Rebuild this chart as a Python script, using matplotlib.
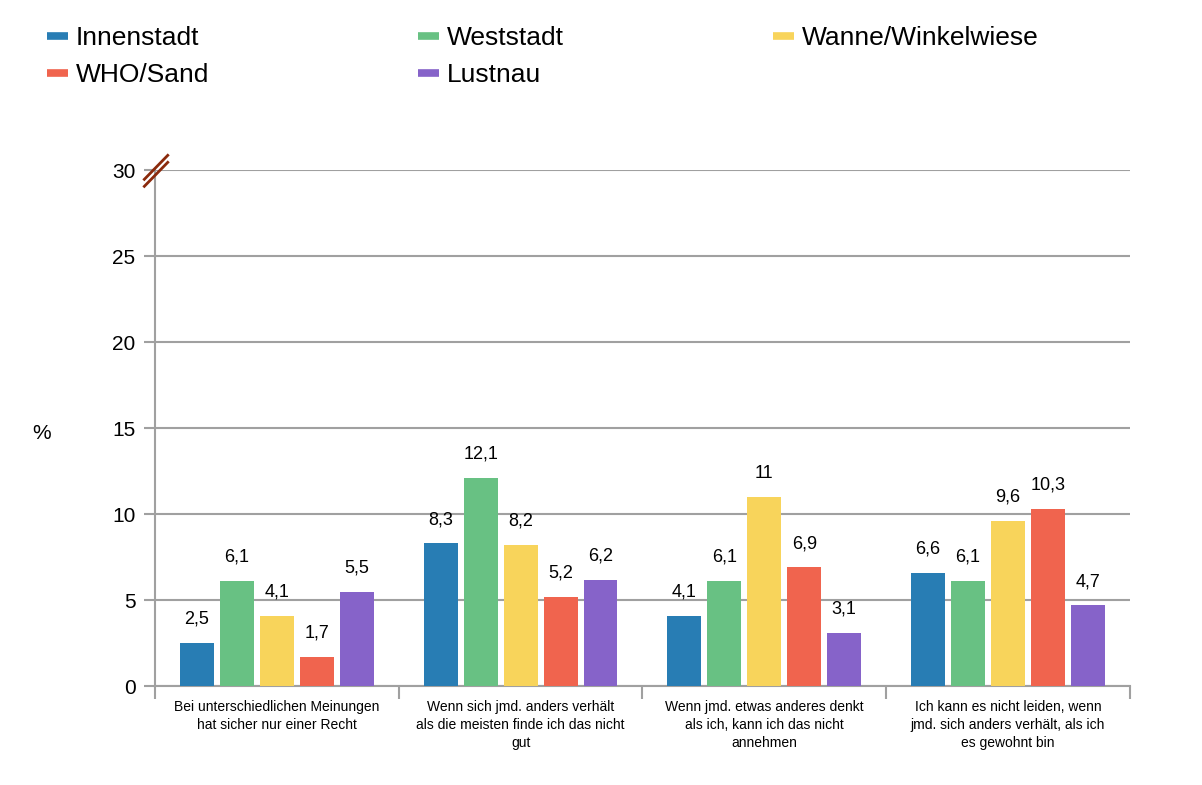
import numpy as np
import matplotlib.pyplot as plt
from matplotlib.lines import Line2D

plt.rcParams['font.family'] = ['Liberation Sans', 'DejaVu Sans']

# data
series = ['Innenstadt', 'Weststadt', 'Wanne/Winkelwiese', 'WHO/Sand', 'Lustnau']
colors = ['#287db4', '#68c183', '#f8d45b', '#f0644e', '#8663c9']
categories = ['Bei unterschiedlichen Meinungen\nhat sicher nur einer Recht',
              'Wenn sich jmd. anders verhält\nals die meisten finde ich das nicht\ngut',
              'Wenn jmd. etwas anderes denkt\nals ich, kann ich das nicht\nannehmen',
              'Ich kann es nicht leiden, wenn\njmd. sich anders verhält, als ich\nes gewohnt bin']
innenstadt = [2.5, 8.3, 4.1, 6.6]
weststadt = [6.1, 12.1, 6.1, 6.1]
wanne = [4.1, 8.2, 11, 9.6]
who_sand = [1.7, 5.2, 6.9, 10.3]
lustnau = [5.5, 6.2, 3.1, 4.7]
values = [innenstadt, weststadt, wanne, who_sand, lustnau]

fig = plt.figure(figsize=(12.02, 7.85), dpi=100)
ax = fig.add_axes([0.129, 0.126, 0.811, 0.657])

x = np.arange(len(categories))
step = 40 / 244
width = 34 / 244
for i, (vals, col) in enumerate(zip(values, colors)):
    pos = x + (i - 2) * step
    ax.bar(pos, vals, width, color=col, zorder=3)
    for xp, v in zip(pos, vals):
        txt = f'{v:g}'.replace('.', ',')
        ax.annotate(txt, (xp, v), xytext=(0, 11), textcoords='offset points',
                    ha='center', va='bottom', fontsize=13)

ax.set_xlim(-0.5, 3.5)
ax.set_ylim(0, 30)
ax.set_yticks(range(0, 31, 5))
ax.tick_params(axis='y', length=8, width=1.5, color='#a0a0a0', labelsize=15, pad=6)
ax.set_xticks(np.arange(-0.5, 4, 1))
ax.set_xticklabels([])
ax.tick_params(axis='x', which='major', length=9, width=1.5, color='#a0a0a0')
ax.set_xticks(x, minor=True)
ax.set_xticklabels(categories, minor=True, fontsize=10, linespacing=1.35)
ax.tick_params(axis='x', which='minor', length=0, pad=10)
ax.yaxis.grid(True, color='#a0a0a0', linewidth=1.5, zorder=0)
for s in ['top', 'right']:
    ax.spines[s].set_visible(False)
for s in ['left', 'bottom']:
    ax.spines[s].set_color('#a0a0a0')
    ax.spines[s].set_linewidth(1.5)

ax.set_ylabel('%', rotation=0, fontsize=15, va='center')
ax.yaxis.set_label_coords(-0.116, 0.49)

# axis break mark
for dy in (0, 7):
    ax.plot([-0.011, 0.013], [1 - 9 / 516 - dy / 516, 1 + 15 / 516 - dy / 516],
            transform=ax.transAxes, color='#8b2a0c', lw=2, clip_on=False, zorder=5)

# legend filled row by row like the original
order = [0, 3, 1, 4, 2]
handles = [Line2D([0], [0], color=colors[k], lw=5.5, solid_capstyle='butt') for k in order]
labels = [series[k] for k in order]
fig.legend(handles, labels, loc='upper left', ncol=3, mode='expand',
           bbox_to_anchor=(0.039, 0.957, 0.825, 0.01), frameon=False,
           fontsize=19, handlelength=0.8, handletextpad=0.3, labelspacing=0.5,
           borderaxespad=0, borderpad=0)

fig.savefig('out.png', dpi=100)
